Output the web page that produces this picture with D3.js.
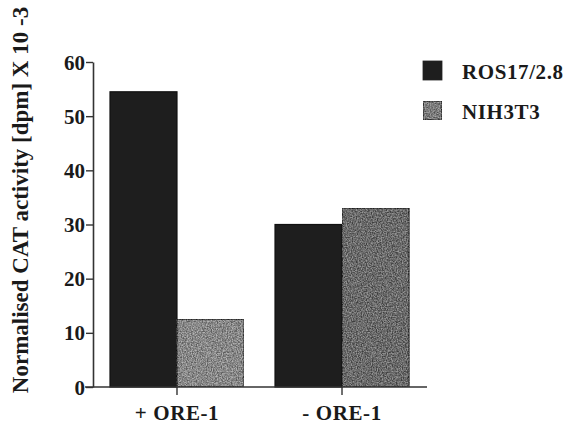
<!DOCTYPE html>
<html>
<head>
<meta charset="utf-8">
<script src="https://cdn.jsdelivr.net/npm/d3@7"></script>
<style>
  body { margin: 0; background: #fff; }
  text { font-family: "Liberation Serif", "DejaVu Serif", serif; font-weight: bold; fill: #1a1a1a; }
</style>
</head>
<body>
<svg id="chart" width="569" height="425"></svg>
<script>
var groups = ["+ ORE-1", "- ORE-1"],
    series = ["ROS17/2.8", "NIH3T3"],
    ros = [54.5, 30],
    nih = [12.5, 33],
    yTicks = [0, 10, 20, 30, 40, 50, 60];

var svg = d3.select("#chart");

// grainy print texture for the grey bars
var defs = svg.append("defs");
var grain = defs.append("filter").attr("id", "grain")
    .attr("x", 0).attr("y", 0).attr("width", 1).attr("height", 1)
    .attr("color-interpolation-filters", "sRGB");
grain.append("feTurbulence")
    .attr("type", "fractalNoise")
    .attr("baseFrequency", 0.8)
    .attr("numOctaves", 2)
    .attr("seed", 3)
    .attr("result", "noise");
// grey speckle: luminance from the red channel, fixed alpha
grain.append("feColorMatrix")
    .attr("in", "noise")
    .attr("type", "matrix")
    .attr("values", "2 0 0 0 -0.5  2 0 0 0 -0.5  2 0 0 0 -0.5  0 0 0 0 0.35")
    .attr("result", "speckle");
grain.append("feComposite")
    .attr("in", "speckle").attr("in2", "SourceGraphic").attr("operator", "in")
    .attr("result", "speckleIn");
grain.append("feMerge").call(function(m) {
    m.append("feMergeNode").attr("in", "SourceGraphic");
    m.append("feMergeNode").attr("in", "speckleIn");
});

var y = d3.scaleLinear().domain([0, 60]).range([387, 62]);

var x = d3.scaleBand().domain(groups)
    .range([93, 426])
    .paddingInner(0.188)
    .paddingOuter(0.103);

var xs = d3.scaleBand().domain(series).range([0, x.bandwidth()]);

var colors = { "ROS17/2.8": "#1e1e1e", "NIH3T3": "#8a8a8a" };
var greyShade = ["#8c8c8c", "#606060"];

var rows = groups.map(function(g, i) {
    return { group: g, index: i, values: [
        { key: series[0], value: ros[i], index: i },
        { key: series[1], value: nih[i], index: i }
    ] };
});

var g = svg.selectAll(".group")
    .data(rows)
    .enter().append("g")
    .attr("class", "group")
    .attr("transform", function(d) { return "translate(" + x(d.group) + ",0)"; });

g.selectAll("rect")
    .data(function(d) { return d.values; })
    .enter().append("rect")
    .attr("x", function(d) { return xs(d.key); })
    .attr("y", function(d) { return y(d.value); })
    .attr("width", xs.bandwidth())
    .attr("height", function(d) { return y(0) - y(d.value); })
    .attr("fill", function(d) {
        return d.key === "NIH3T3" ? greyShade[d.index] : colors[d.key];
    })
    .attr("filter", function(d) { return d.key === "NIH3T3" ? "url(#grain)" : null; })
    .attr("stroke", "#111")
    .attr("stroke-width", 1.2);

// y axis
var yAxis = svg.append("g")
    .attr("transform", "translate(93,0)")
    .call(d3.axisLeft(y).tickValues(yTicks).tickSize(7).tickSizeOuter(0).tickPadding(1));
yAxis.select(".domain").attr("stroke", "#333").attr("stroke-width", 1.6);
yAxis.selectAll(".tick line").attr("stroke", "#333").attr("stroke-width", 1.4);
yAxis.selectAll(".tick text")
    .attr("font-size", 21)
    .attr("font-family", null)
    .attr("dy", "0.34em")
    .style("fill", "#1a1a1a");

// x axis
var xAxis = svg.append("g")
    .attr("transform", "translate(0,387)")
    .call(d3.axisBottom(x).tickSize(8).tickSizeOuter(0));
xAxis.select(".domain").remove();
xAxis.append("line")
    .attr("x1", 85).attr("x2", 427)
    .attr("stroke", "#333").attr("stroke-width", 1.6);
xAxis.selectAll(".tick line").attr("stroke", "#333").attr("stroke-width", 1.4);
xAxis.selectAll(".tick text")
    .attr("font-size", 21)
    .attr("font-family", null)
    .attr("letter-spacing", 0.6)
    .attr("y", 33)
    .attr("dy", 0)
    .style("fill", "#1a1a1a");

// y label
svg.append("text")
    .attr("transform", "translate(28,200) rotate(-90)")
    .attr("text-anchor", "middle")
    .attr("font-size", 23)
    .text("Normalised CAT activity [dpm] X 10 -3");

// legend
var legend = svg.selectAll(".legend")
    .data(series)
    .enter().append("g")
    .attr("class", "legend")
    .attr("transform", function(d, i) { return "translate(423," + (61 + i * 40) + ")"; });

legend.append("rect")
    .attr("width", 19)
    .attr("height", 19)
    .attr("fill", function(d) { return d === "NIH3T3" ? "#7a7a7a" : colors[d]; })
    .attr("filter", function(d) { return d === "NIH3T3" ? "url(#grain)" : null; })
    .attr("stroke", "#222")
    .attr("stroke-width", function(d) { return d === "NIH3T3" ? 1.8 : 0.8; });

legend.append("text")
    .attr("x", 39)
    .attr("y", 18)
    .attr("font-size", 21)
    .attr("letter-spacing", 0.6)
    .text(function(d) { return d; });
</script>
</body>
</html>
